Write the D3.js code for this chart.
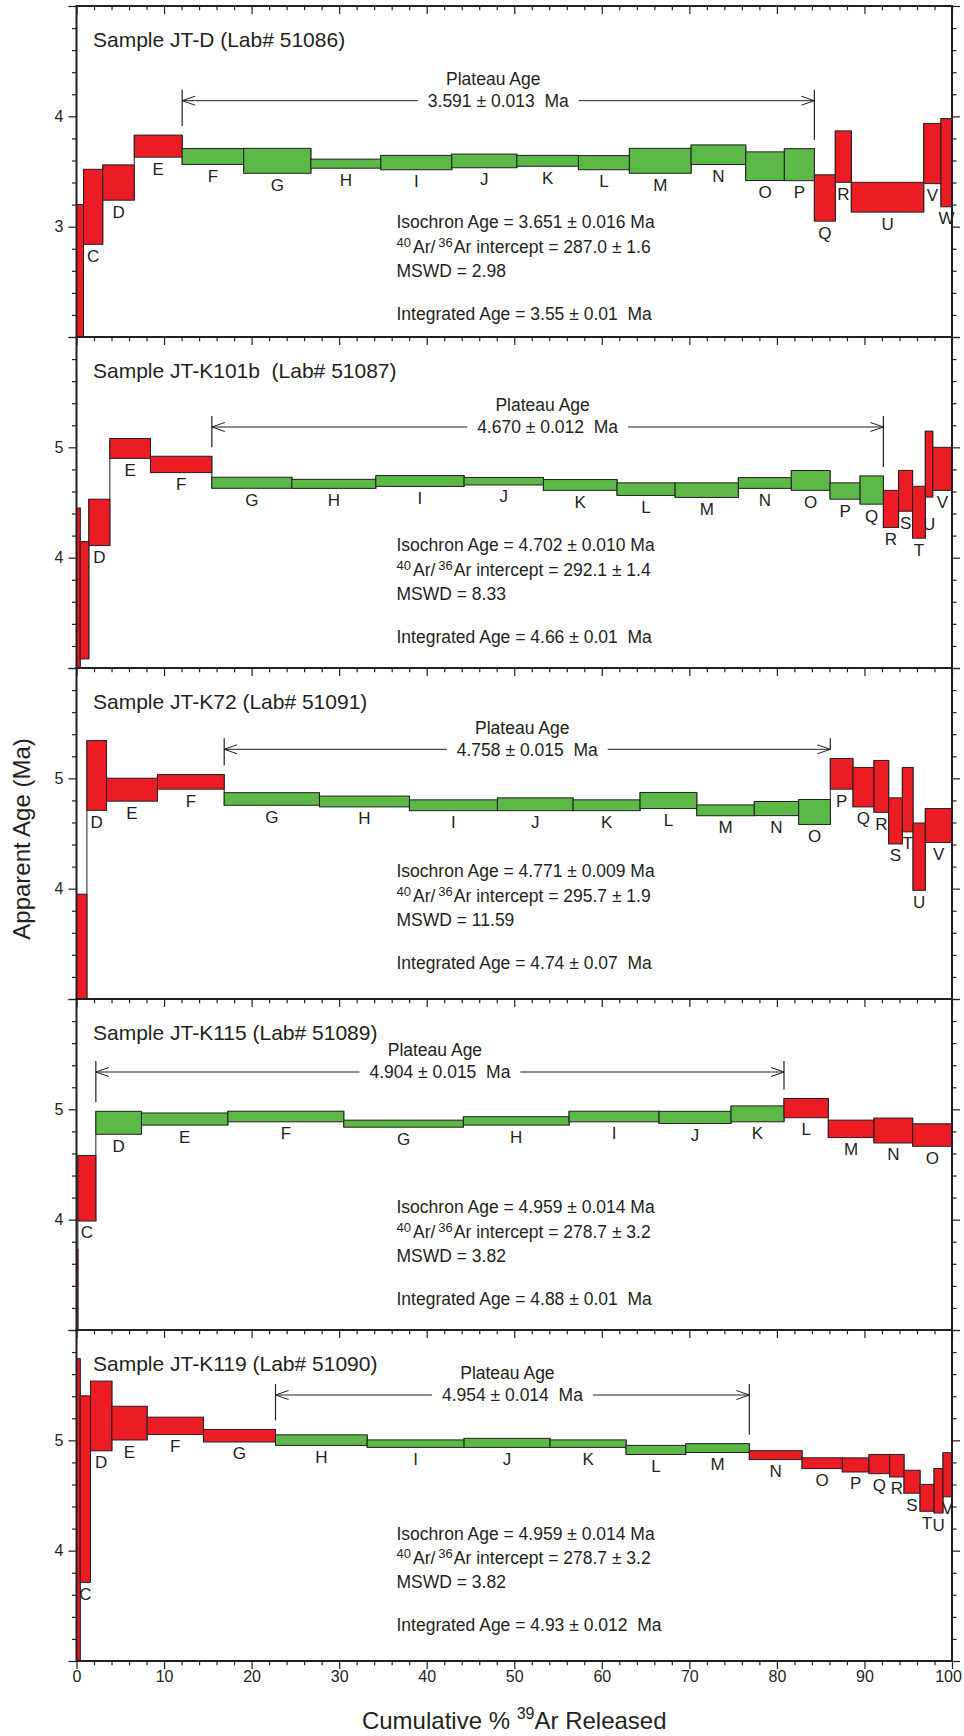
<!DOCTYPE html>
<html>
<head>
<meta charset="utf-8">
<script src="https://cdn.jsdelivr.net/npm/d3@7"></script>
<style>
  body { margin: 0; background: #fff; }
  svg text { font-family: "Liberation Sans", Arial, Helvetica, sans-serif; fill: #231f20; white-space: pre; }
</style>
</head>
<body>
<svg id="chart" width="964" height="1736"></svg>
<script>
// ---------------- Step-heating data (cumulative % 39Ar at end of step, apparent age, ± error) ----------------
const sampleTitles = [
  "Sample JT-D (Lab# 51086)",
  "Sample JT-K101b  (Lab# 51087)",
  "Sample JT-K72 (Lab# 51091)",
  "Sample JT-K115 (Lab# 51089)",
  "Sample JT-K119 (Lab# 51090)"
];
const ageRanges = [[2, 5], [3, 6], [3, 6], [3, 6], [3, 6]];

// JT-D
const jtdSteps = ["", "C", "D", "E", "F", "G", "H", "I", "J", "K", "L", "M", "N", "O", "P", "Q", "R", "U", "V", "W"];
const jtdCum   = [0.8, 3.0, 6.6, 12.07, 19.1, 26.77, 34.76, 42.87, 50.3, 57.33, 63.15, 70.2, 76.44, 80.85, 84.28, 86.67, 88.5, 96.77, 98.74, 100];
const jtdAge   = [2.45, 3.18, 3.40, 3.73, 3.636, 3.597, 3.571, 3.581, 3.596, 3.597, 3.58, 3.597, 3.652, 3.548, 3.562, 3.26, 3.635, 3.267, 3.663, 3.58];
const jtdErr   = [0.75, 0.34, 0.16, 0.10, 0.072, 0.113, 0.041, 0.065, 0.062, 0.049, 0.064, 0.113, 0.089, 0.13, 0.145, 0.21, 0.233, 0.135, 0.273, 0.40];
const jtdPlateau = ["F", "P"];

// JT-K101b
const k101Steps = ["", "", "D", "E", "F", "G", "H", "I", "J", "K", "L", "M", "N", "O", "P", "Q", "R", "S", "T", "U", "V"];
const k101Cum   = [0.42, 1.41, 3.81, 8.45, 15.46, 24.6, 34.19, 44.27, 53.33, 61.74, 68.37, 75.6, 81.65, 86.07, 89.5, 92.16, 93.9, 95.5, 96.95, 97.8, 100];
const k101Age   = [3.63, 3.614, 4.32, 4.99, 4.845, 4.679, 4.669, 4.695, 4.693, 4.659, 4.621, 4.612, 4.677, 4.70, 4.604, 4.613, 4.442, 4.606, 4.412, 4.848, 4.805];
const k101Err   = [0.82, 0.532, 0.21, 0.09, 0.074, 0.05, 0.041, 0.049, 0.034, 0.049, 0.057, 0.066, 0.049, 0.09, 0.074, 0.128, 0.168, 0.185, 0.235, 0.299, 0.195];
const k101Plateau = ["G", "Q"];

// JT-K72
const k72Steps = ["", "D", "E", "F", "G", "H", "I", "J", "K", "L", "M", "N", "O", "P", "Q", "R", "S", "T", "U", "V"];
const k72Cum   = [1.19, 3.43, 9.25, 16.87, 27.75, 38.03, 48.08, 56.72, 64.37, 70.85, 77.42, 82.49, 86.1, 88.69, 91.09, 92.77, 94.33, 95.55, 96.95, 100];
const k72Age   = [3.45, 5.026, 4.897, 4.968, 4.813, 4.79, 4.756, 4.765, 4.756, 4.799, 4.71, 4.726, 4.695, 5.041, 4.92, 4.927, 4.614, 4.807, 4.29, 4.572];
const k72Err   = [0.50, 0.316, 0.104, 0.066, 0.057, 0.049, 0.049, 0.058, 0.049, 0.073, 0.049, 0.064, 0.113, 0.139, 0.179, 0.235, 0.209, 0.292, 0.305, 0.154];
const k72Plateau = ["G", "O"];

// JT-K115
const k115Steps = ["", "C", "D", "E", "F", "G", "H", "I", "J", "K", "L", "M", "N", "O"];
const k115Cum   = [0.16, 2.21, 7.42, 17.29, 30.53, 44.19, 56.26, 66.54, 74.76, 80.81, 85.87, 91.09, 95.51, 100];
const k115Age   = [3.35, 4.285, 4.878, 4.912, 4.935, 4.87, 4.895, 4.935, 4.927, 4.959, 5.011, 4.823, 4.808, 4.767];
const k115Err   = [0.38, 0.297, 0.104, 0.055, 0.048, 0.032, 0.038, 0.048, 0.055, 0.072, 0.087, 0.079, 0.113, 0.102];
const k115Plateau = ["D", "K"];

// JT-K119
const k119Steps = ["", "C", "D", "E", "F", "G", "H", "I", "J", "K", "L", "M", "N", "O", "P", "Q", "R", "S", "T", "U", "V"];
const k119Cum   = [0.42, 1.6, 4.04, 8.07, 14.5, 22.73, 33.2, 44.27, 54.09, 62.77, 69.59, 76.85, 82.87, 87.47, 90.52, 92.88, 94.52, 96.35, 97.95, 98.97, 100];
const k119Age   = [4.32, 4.558, 5.221, 5.156, 5.131, 5.042, 5.002, 4.97, 4.977, 4.97, 4.913, 4.93, 4.866, 4.793, 4.777, 4.785, 4.77, 4.625, 4.479, 4.543, 4.688];
const k119Err   = [1.42, 0.845, 0.316, 0.153, 0.079, 0.057, 0.048, 0.034, 0.041, 0.034, 0.041, 0.04, 0.04, 0.049, 0.064, 0.087, 0.102, 0.104, 0.122, 0.202, 0.20];
const k119Plateau = ["H", "M"];

// Summary ages
const plateauAges  = ["3.591 ± 0.013", "4.670 ± 0.012", "4.758 ± 0.015", "4.904 ± 0.015", "4.954 ± 0.014"];
const isochronAges = ["3.651 ± 0.016", "4.702 ± 0.010", "4.771 ± 0.009", "4.959 ± 0.014", "4.959 ± 0.014"];
const interceptVals = ["287.0 ± 1.6", "292.1 ± 1.4", "295.7 ± 1.9", "278.7 ± 3.2", "278.7 ± 3.2"];
const mswdVals     = ["2.98", "8.33", "11.59", "3.82", "3.82"];
const integratedAges = ["3.55 ± 0.01", "4.66 ± 0.01", "4.74 ± 0.07", "4.88 ± 0.01", "4.93 ± 0.012"];
const xTickValues = [0, 10, 20, 30, 40, 50, 60, 70, 80, 90, 100];

const samples = [
  { labels: jtdSteps,  cum: jtdCum,  age: jtdAge,  err: jtdErr,  plateau: jtdPlateau },
  { labels: k101Steps, cum: k101Cum, age: k101Age, err: k101Err, plateau: k101Plateau },
  { labels: k72Steps,  cum: k72Cum,  age: k72Age,  err: k72Err,  plateau: k72Plateau },
  { labels: k115Steps, cum: k115Cum, age: k115Age, err: k115Err, plateau: k115Plateau },
  { labels: k119Steps, cum: k119Cum, age: k119Age, err: k119Err, plateau: k119Plateau }
];

// ---------------- Layout ----------------
const L = { left: 76.5, right: 952, top: 6, panelH: 331 };
const arrowOffset = [94.7, 90, 81.3, 73, 65];        // plateau arrow height below panel top
const infoOffset  = [215.7, 208, 203, 207.7, 203.3]; // first info line (centre) below panel top
const infoX = 396.5;
const labelNudge = { "1:U": 15 };
const INK = "#231f20", RED = "#ec1c24", GREEN = "#5cb947";
const FS = 17.5;

const svg = d3.select("#chart");
const x = d3.scaleLinear().domain([0, 100]).range([L.left, L.right]);

samples.forEach((s, i) => {
  const top = L.top + i * L.panelH, bottom = top + L.panelH;
  const y = d3.scaleLinear().domain(ageRanges[i]).range([bottom, top]);
  const g = svg.append("g");

  const clipId = "clip" + i;
  svg.append("clipPath").attr("id", clipId)
    .append("rect").attr("x", x(0)).attr("y", top).attr("width", x(100) - x(0)).attr("height", L.panelH);
  const plot = g.append("g").attr("clip-path", `url(#${clipId})`);

  const steps = s.labels.map((lab, j) => ({
    label: lab, idx: j,
    x0: j ? s.cum[j - 1] : 0, x1: s.cum[j],
    hi: s.age[j] + s.err[j], lo: s.age[j] - s.err[j]
  }));
  const pStart = s.labels.indexOf(s.plateau[0]);
  const pEnd = s.labels.indexOf(s.plateau[1]);

  // vertical risers joining consecutive steps
  plot.selectAll("line.riser").data(steps.slice(0, -1)).enter().append("line")
    .attr("x1", d => x(d.x1)).attr("x2", d => x(d.x1))
    .attr("y1", d => Math.min(y(d.hi), y(steps[d.idx + 1].hi)))
    .attr("y2", d => Math.max(y(d.lo), y(steps[d.idx + 1].lo)))
    .attr("stroke", INK).attr("stroke-width", 1);

  // step boxes
  plot.selectAll("rect.step").data(steps).enter().append("rect")
    .attr("x", d => x(d.x0)).attr("width", d => x(d.x1) - x(d.x0))
    .attr("y", d => y(d.hi)).attr("height", d => y(d.lo) - y(d.hi))
    .attr("fill", d => (d.idx >= pStart && d.idx <= pEnd) ? GREEN : RED)
    .attr("stroke", INK).attr("stroke-width", 1);

  // step letters
  g.selectAll("text.step").data(steps.filter(d => d.label)).enter().append("text")
    .attr("x", d => x((d.x0 + d.x1) / 2))
    .attr("y", d => y(d.lo) + 17.5 + (labelNudge[i + ":" + d.label] || 0))
    .attr("text-anchor", "middle").attr("font-size", 17).text(d => d.label);

  // axes
  const [a0, a1] = ageRanges[i];
  const majorY = d3.range(a0, a1 + 0.001, 1);
  const minorY = d3.range(a0, a1 + 0.001, 0.2).filter(v => Math.abs(v - Math.round(v)) > 1e-6);
  const labelY = majorY.filter(v => v > a0 && v < a1);
  const minorX = d3.range(0, 100.001, 2).filter(v => v % 10 !== 0);

  const styleAxis = sel => {
    sel.select(".domain").remove();
    sel.selectAll(".tick line").attr("stroke", INK).attr("stroke-width", 1.2);
    sel.selectAll(".tick text").attr("fill", INK).attr("font-size", 16)
      .attr("font-family", "Liberation Sans, Arial, Helvetica, sans-serif");
  };

  g.append("g").attr("transform", `translate(${x(0)},0)`)
    .call(d3.axisLeft(y).tickValues(majorY).tickSize(8).tickPadding(5).tickFormat(v => labelY.includes(v) ? d3.format("d")(v) : ""))
    .call(styleAxis);
  g.append("g").attr("transform", `translate(${x(0)},0)`)
    .call(d3.axisLeft(y).tickValues(minorY).tickSize(4.5).tickFormat(""))
    .call(styleAxis);
  g.append("g").attr("transform", `translate(${x(100)},0)`)
    .call(d3.axisRight(y).tickValues(majorY).tickSize(8).tickFormat(""))
    .call(styleAxis);
  g.append("g").attr("transform", `translate(${x(100)},0)`)
    .call(d3.axisRight(y).tickValues(minorY).tickSize(4.5).tickFormat(""))
    .call(styleAxis);
  g.append("g").attr("transform", `translate(0,${top})`)
    .call(d3.axisBottom(x).tickValues(xTickValues).tickSize(8).tickFormat(""))
    .call(styleAxis);
  g.append("g").attr("transform", `translate(0,${top})`)
    .call(d3.axisBottom(x).tickValues(minorX).tickSize(4.3).tickFormat(""))
    .call(styleAxis);
  if (i === samples.length - 1) {
    const bx = g.append("g").attr("transform", `translate(0,${bottom})`)
      .call(d3.axisBottom(x).tickValues(xTickValues).tickSize(8).tickPadding(2).tickFormat(d3.format("d")))
      .call(styleAxis);
    // keep the last label inside the page edge
    bx.selectAll(".tick text").filter(v => v === 100).attr("dx", -4);
    g.append("g").attr("transform", `translate(0,${bottom})`)
      .call(d3.axisBottom(x).tickValues(minorX).tickSize(4.3).tickFormat(""))
      .call(styleAxis);
  }

  // frame
  g.append("rect").attr("x", x(0)).attr("y", top).attr("width", x(100) - x(0)).attr("height", L.panelH)
    .attr("fill", "none").attr("stroke", INK).attr("stroke-width", 2);

  // sample title
  g.append("text").attr("x", 93).attr("y", top + 40.5).attr("font-size", 21).text(sampleTitles[i]);

  // plateau bracket
  const ay = top + arrowOffset[i];
  const xs = x(steps[pStart].x0), xe = x(steps[pEnd].x1);
  const xm = (xs + xe) / 2;
  g.append("text").attr("x", xm - 5).attr("y", ay - 22 + 6.3).attr("text-anchor", "middle")
    .attr("font-size", FS).text("Plateau Age");
  const num = g.append("text").attr("x", xm).attr("y", ay + 6.3).attr("text-anchor", "middle")
    .attr("font-size", FS).text(plateauAges[i] + "  Ma");
  const tw = num.node().getComputedTextLength();
  const line = d3.line();
  g.append("path").attr("d", line([[xs, ay], [xm - tw / 2 - 10, ay]])).attr("stroke", INK).attr("fill", "none");
  g.append("path").attr("d", line([[xm + tw / 2 + 10, ay], [xe, ay]])).attr("stroke", INK).attr("fill", "none");
  g.append("path").attr("d", line([[xs + 13, ay - 4.5], [xs, ay], [xs + 13, ay + 4.5]])).attr("stroke", INK).attr("fill", "none");
  g.append("path").attr("d", line([[xe - 13, ay - 4.5], [xe, ay], [xe - 13, ay + 4.5]])).attr("stroke", INK).attr("fill", "none");
  const leftFloor = Math.min(y(steps[pStart].hi), pStart > 0 ? y(steps[pStart - 1].hi) : Infinity) - 9;
  const rightFloor = Math.min(y(steps[pEnd].hi), pEnd < steps.length - 1 ? y(steps[pEnd + 1].hi) : Infinity) - 9;
  g.append("line").attr("x1", xs).attr("x2", xs).attr("y1", ay - 11).attr("y2", leftFloor).attr("stroke", INK).attr("stroke-width", 1.2);
  g.append("line").attr("x1", xe).attr("x2", xe).attr("y1", ay - 11).attr("y2", rightFloor).attr("stroke", INK).attr("stroke-width", 1.2);

  // isochron / integrated summary
  const iy = top + infoOffset[i] + 6.3;
  g.append("text").attr("x", infoX).attr("y", iy).attr("font-size", FS).text(`Isochron Age = ${isochronAges[i]} Ma`);
  const t2 = g.append("text").attr("x", infoX).attr("y", iy + 24.5).attr("font-size", FS);
  t2.append("tspan").attr("font-size", 13).attr("dy", -6).text("40");
  t2.append("tspan").attr("dy", 6).attr("dx", 2).text("Ar/");
  t2.append("tspan").attr("font-size", 13).attr("dy", -6).attr("dx", 3).text("36");
  t2.append("tspan").attr("dy", 6).attr("dx", 1).text(`Ar intercept = ${interceptVals[i]}`);
  g.append("text").attr("x", infoX).attr("y", iy + 48.5).attr("font-size", FS).text(`MSWD = ${mswdVals[i]}`);
  g.append("text").attr("x", infoX).attr("y", iy + 91.5).attr("font-size", FS).text(`Integrated Age = ${integratedAges[i]}  Ma`);
});

// axis titles
svg.append("text").attr("transform", "translate(29.5,839) rotate(-90)").attr("text-anchor", "middle")
  .attr("font-size", 24).text("Apparent Age (Ma)");
const xt = svg.append("text").attr("x", (L.left + L.right) / 2).attr("y", 1729).attr("text-anchor", "middle").attr("font-size", 24);
xt.append("tspan").text("Cumulative % ");
xt.append("tspan").attr("font-size", 16).attr("dy", -10).text("39");
xt.append("tspan").attr("dy", 10).text("Ar Released");
</script>
</body>
</html>
